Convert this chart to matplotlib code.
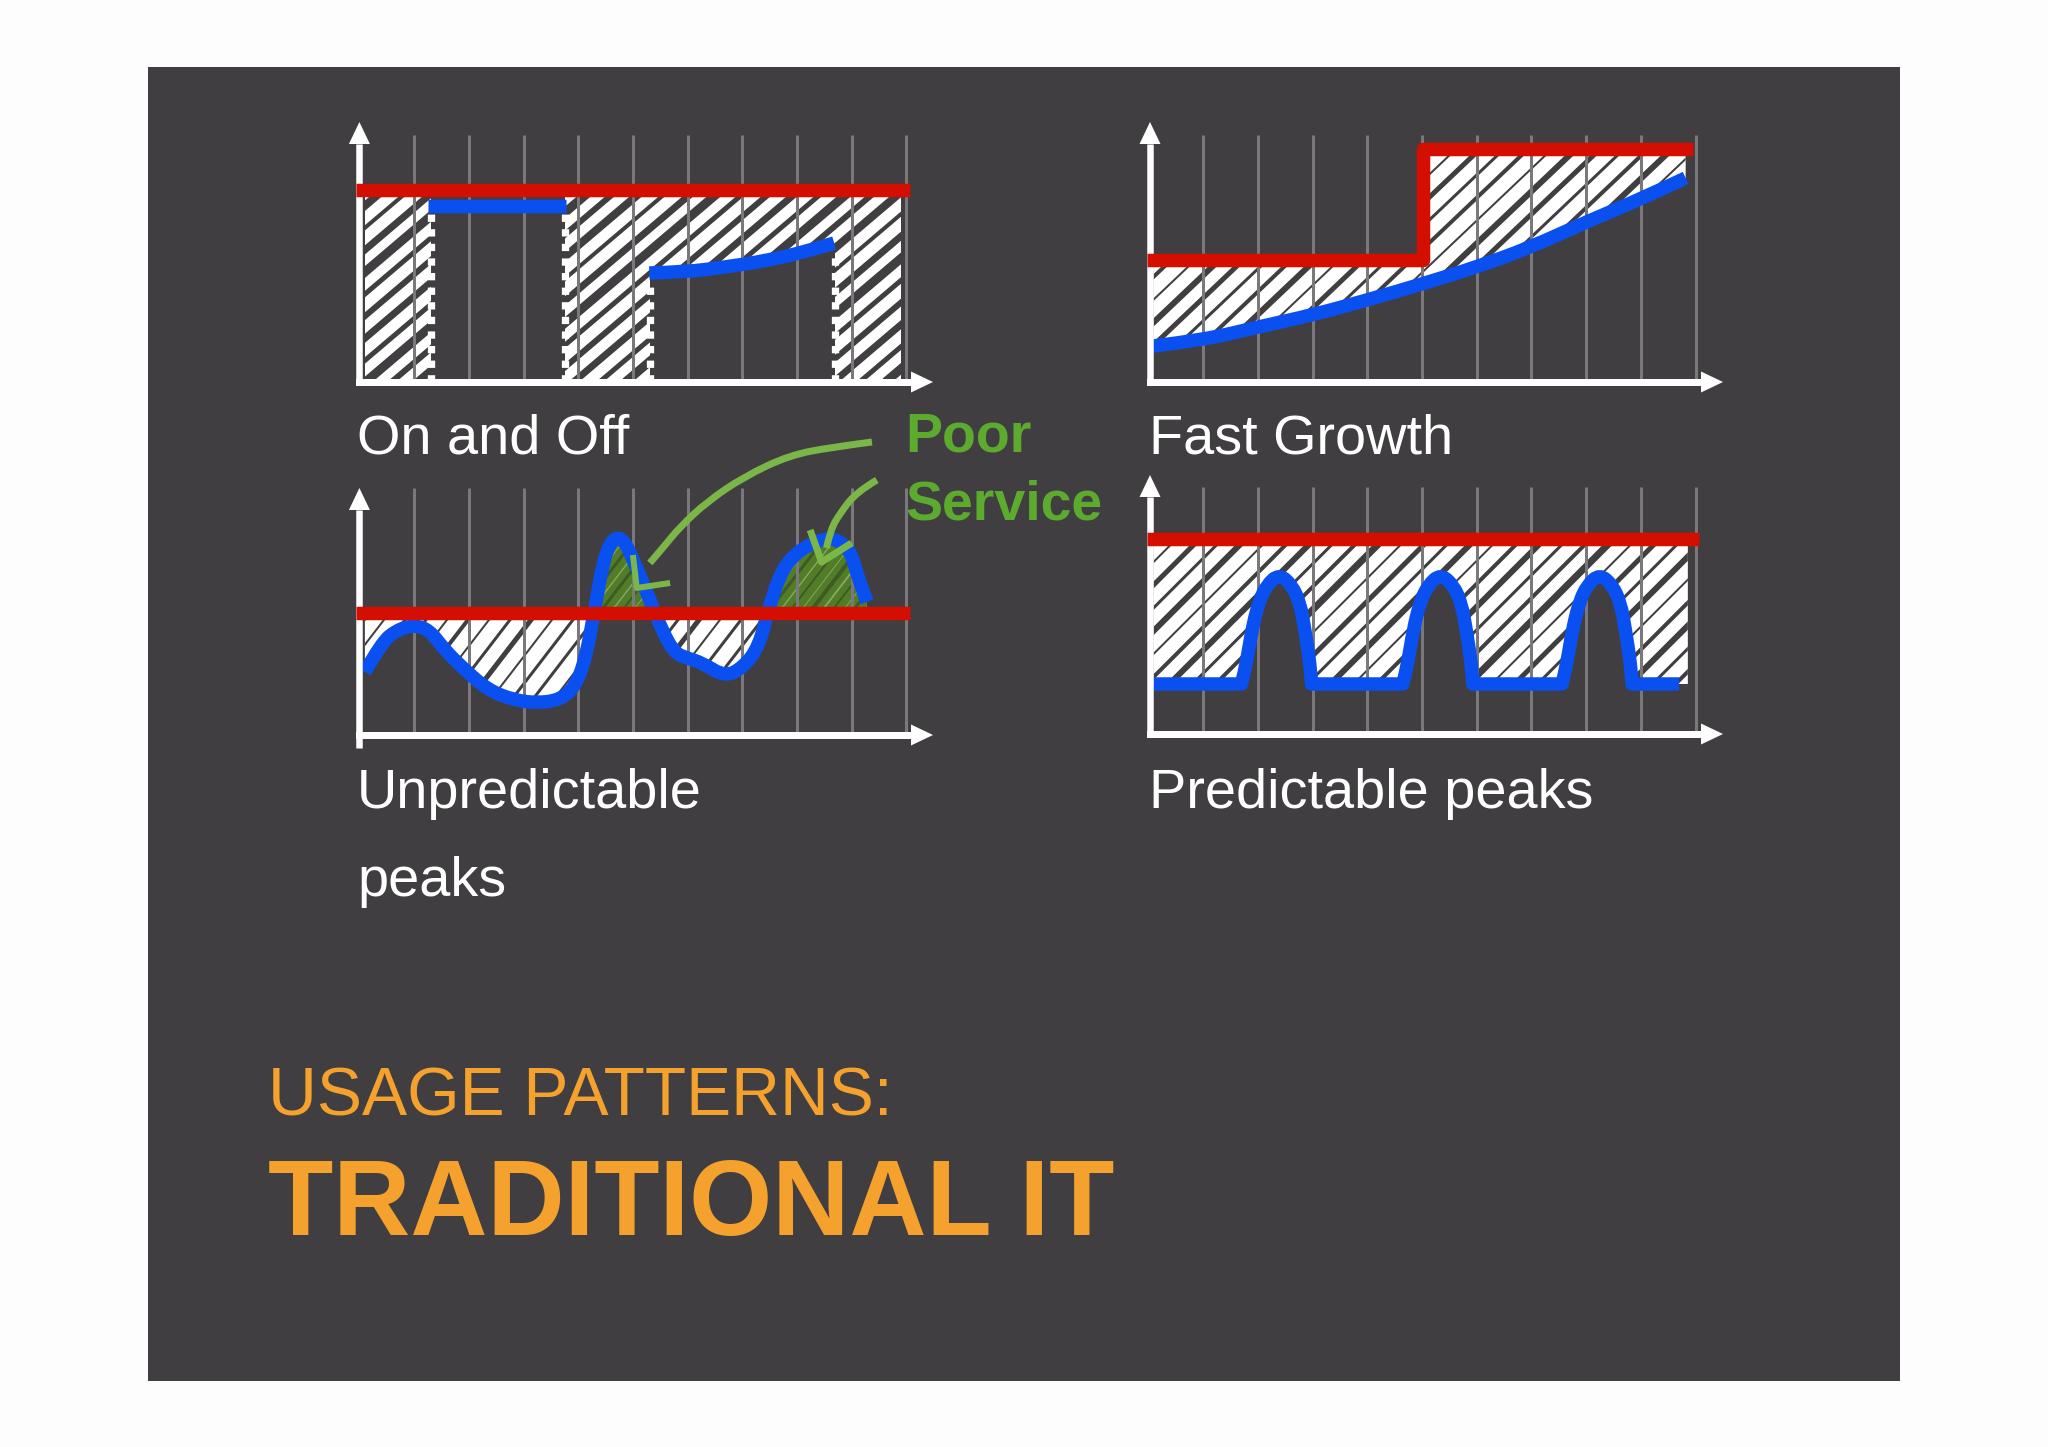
import matplotlib
matplotlib.use("Agg")
import matplotlib.pyplot as plt
from matplotlib.collections import LineCollection
from matplotlib.patches import PathPatch, Rectangle
from matplotlib.path import Path
import numpy as np

plt.rcParams['font.family'] = ['Liberation Sans', 'DejaVu Sans']

W, H = 2048, 1447
BG = '#403e40'
RED = '#d40e00'
BLUE = '#0a4ff0'
GRID = '#7a787a'
WHITE = '#ffffff'
GREEN_TXT = '#5cab2f'
GREEN_ARW = '#7ab648'
GREEN_FILL = '#527d28'
ORANGE = '#f4a12d'

grid_x = [1, 2, 3, 4, 5, 6, 7, 8, 9, 10]

# On and Off
on_red_x = [-0.07, 10.07]
on_red_y = [192, 192]
on_blue1_x = [1.25, 3.78]
on_blue1_y = [176, 176]
on_blue2_x = [5.30, 5.97, 6.69, 7.41, 8.14, 8.68]
on_blue2_y = [109, 110, 115, 121, 130, 139]
on_dots_x = [1.31, 3.75, 5.31, 8.70]
on_dots_top = [168, 168, 101, 130]
on_fill_x = [[0.1, 1.31], [3.75, 5.31], [5.31, 5.97, 6.69, 7.41, 8.14, 8.70], [8.70, 9.9]]
on_fill_lo = [[0, 0], [0, 0], [109, 110, 115, 121, 130, 139], [0, 0]]

# Fast Growth
fg_red_x = [-0.02, 5.01, 5.01, 9.96]
fg_red_y = [122, 122, 233, 233]
fg_blue_x = [0.09, 1, 2, 3, 4, 5, 6, 7, 8, 9, 9.82]
fg_blue_y = [36, 42, 55, 67, 82, 98, 115, 135, 160, 183, 204]

# Unpredictable peaks
un_red_x = [-0.07, 10.07]
un_red_y = [122, 122]
un_blue_x = [0.10, 0.40, 0.68, 1.0, 1.28, 1.56, 1.89, 2.35, 2.82, 3.24, 3.66, 3.94, 4.13, 4.31,
             4.45, 4.59, 4.73, 4.87, 5.06, 5.29, 5.53, 5.76, 5.99, 6.27, 6.69, 7.02, 7.30, 7.49,
             7.72, 8.0, 8.33, 8.65, 8.98, 9.11, 9.28]
un_blue_y = [63, 92, 105, 110, 105, 85, 67, 45, 35, 32, 35, 48, 75, 128,
             172, 193, 198, 192, 168, 138, 105, 82, 77, 72, 58, 68, 88, 128,
             165, 183, 193, 198, 185, 158, 133]
arrow1_x = [9.37, 8.67, 7.87, 7.02, 6.35, 5.86, 5.56, 5.31]
arrow1_y = [293, 288, 280, 258, 233, 208, 188, 172]
head1_x = [5.00, 5.07, 5.68]
head1_y = [180, 147, 152]
arrow2_x = [9.46, 9.09, 8.79, 8.61, 8.54]
arrow2_y = [255, 243, 222, 205, 187]
head2_x = [8.24, 8.45, 9.0]
head2_y = [205, 173, 192]

# Predictable peaks (repeated points are the square corners at the foot of each peak)
pp_blue_x = [0.09, 1.70, 1.70, 1.79, 1.89, 2.01, 2.16, 2.39, 2.62, 2.77, 2.86, 2.95, 2.98, 2.98,
             4.65, 4.65, 4.74, 4.84, 4.96, 5.11, 5.34, 5.57, 5.72, 5.81, 5.90, 5.93, 5.93,
             7.56, 7.56, 7.65, 7.75, 7.87, 8.02, 8.25, 8.48, 8.63, 8.72, 8.81, 8.84, 8.84, 9.70]
pp_blue_y = [50, 50, 50, 71, 104, 131, 149, 160, 149, 131, 104, 71, 50, 50,
             50, 50, 71, 104, 131, 149, 160, 149, 131, 104, 71, 50, 50,
             50, 50, 71, 104, 131, 149, 160, 149, 131, 104, 71, 50, 50, 50]
pp_red_x = [-0.02, 10.07]
pp_red_y = [195, 195]

# stroke texture of each shaded area: slope, horizontal pitch (px), dark stroke widths (px)
on_strokes = (0.85, 26, [7, 5, 9, 6, 8, 4, 7, 9, 5, 6])
fg_strokes = (0.95, 24, [5, 3, 4, 6, 2, 5, 3, 4, 2, 6])
un_strokes = (1.3, 21, [3, 2, 4, 2, 3, 5, 2, 3])
pp_strokes = (1.0, 23, [6, 3, 4, 7, 2, 5, 3, 6, 2, 4])

fig = plt.figure(figsize=(W / 100, H / 100), dpi=100, facecolor='#fdfdfd')
fig.patches.append(Rectangle((148 / W, 1 - 1381 / H), (1900 - 148) / W, (1381 - 67) / H,
                             transform=fig.transFigure, facecolor=BG, edgecolor='none', zorder=-5))
PX = 0.72
UNIT = 54.7


def panel(x0, y0, tip, top, grid_top, stem=-3, shift=0.0):
    ax = fig.add_axes([x0 / W, 1 - y0 / H, (tip - x0) / W, (y0 - top) / H])
    ax.set_xlim(0, (tip - x0) / UNIT)
    ax.set_ylim(0, y0 - top)
    ax.axis('off')
    ax.vlines(grid_x, 3, grid_top, color=GRID, lw=3 * PX, zorder=3)
    xmax, ymax = ax.get_xlim()[1], ax.get_ylim()[1]
    hl = 22 / UNIT
    hw = 10.5 / UNIT
    ax.plot([shift, xmax - hl], [0, 0], color=WHITE, lw=7 * PX, solid_capstyle='projecting',
            zorder=8, clip_on=False)
    ax.fill([xmax - hl, xmax, xmax - hl], [10.5, 0, -10.5], color=WHITE, lw=0, zorder=8, clip_on=False)
    ax.plot([shift, shift], [stem, ymax - 22], color=WHITE, lw=6.5 * PX, solid_capstyle='butt',
            zorder=8, clip_on=False)
    ax.fill([shift - hw, shift, shift + hw], [ymax - 22, ymax, ymax - 22], color=WHITE, lw=0, zorder=8,
            clip_on=False)
    return ax


def strokes(ax, paths, spec, color, scale=1.0, offset=0.0):
    slope, pitch, widths = spec
    ymax = ax.get_ylim()[1]
    starts = np.arange(-ymax / slope / UNIT, 11, pitch / UNIT) + offset
    segs = [[(s, 0), (s + ymax / slope / UNIT, ymax)] for s in starts]
    lws = [widths[i % len(widths)] * PX * scale for i in range(len(segs))]
    for p in paths:
        lc = LineCollection(segs, colors=color, linewidths=lws, zorder=2.5, capstyle='butt')
        ax.add_collection(lc, autolim=False)
        lc.set_clip_path(p, ax.transData)


def shaded(ax, x, lo, hi, spec, face=WHITE, edge=BG, light=None, **kw):
    poly = ax.fill_between(x, lo, hi, facecolor=face, edgecolor='none', linewidth=0, zorder=2, **kw)
    paths = poly.get_paths()
    strokes(ax, paths, spec, edge)
    if light:
        strokes(ax, paths, spec, light, scale=0.45, offset=0.2)


def line(ax, x, y, color, width=13.5, z=6, cap='butt'):
    ax.plot(x, y, color=color, lw=width * PX, zorder=z, solid_joinstyle='round',
            solid_capstyle=cap, clip_on=False)


def curve(ax, x, y, color, width=13.5, z=6, cap='butt'):
    """Smooth stroke with the read points as quadratic control points."""
    pts = np.column_stack([x, y])
    verts = [pts[0]]
    codes = [Path.MOVETO]
    for i in range(1, len(pts) - 1):
        end = pts[i + 1] if i == len(pts) - 2 else (pts[i] + pts[i + 1]) / 2
        verts += [pts[i], end]
        codes += [Path.CURVE3, Path.CURVE3]
    ax.add_patch(PathPatch(Path(verts, codes), facecolor='none', edgecolor=color, lw=width * PX,
                           capstyle=cap, joinstyle='round', zorder=z, clip_on=False))


# --- On and Off
a = panel(359.4, 382, 933, 122, 247)
for xs, los in zip(on_fill_x, on_fill_lo):
    shaded(a, xs, los, [on_red_y[0]] * len(xs), on_strokes)
for x, t in zip(on_dots_x, on_dots_top):
    a.plot([x, x], [0, t], color=WHITE, lw=7.3 * PX, linestyle=(0, (1, 1)), zorder=5,
           dash_capstyle='butt')
line(a, on_blue1_x, on_blue1_y, BLUE)
curve(a, on_blue2_x, on_blue2_y, BLUE)
line(a, on_red_x, on_red_y, RED, z=9)

# --- Fast Growth
a = panel(1148.5, 382, 1723, 122, 247, shift=1.5 / UNIT)
fx = np.array(fg_blue_x)
fy = np.array(fg_blue_y)
left = fx <= 5
shaded(a, fx[left], fy[left], np.full(left.sum(), fg_red_y[0]), fg_strokes)
shaded(a, fx[~left], fy[~left], np.full((~left).sum(), fg_red_y[2]), fg_strokes)
shaded(a, [5.01, 6], [98, 115], [233, 233], fg_strokes)
curve(a, fg_blue_x, fg_blue_y, BLUE)
line(a, fg_red_x, fg_red_y, RED, z=9)

# --- Unpredictable peaks
a = panel(359.4, 735, 933, 488, 247, stem=-13)
ux = np.array(un_blue_x)
uy = np.array(un_blue_y)
level = un_red_y[0]
shaded(a, ux, uy, level, un_strokes, where=uy <= level, interpolate=True)
shaded(a, ux, level, uy, un_strokes, face=GREEN_FILL, edge='#3f5a24', light='#8aa866',
       where=uy >= level, interpolate=True)
curve(a, un_blue_x, un_blue_y, BLUE)
line(a, un_red_x, un_red_y, RED, z=9)
curve(a, arrow1_x, arrow1_y, GREEN_ARW, 7, z=7)
line(a, head1_x, head1_y, GREEN_ARW, 6, z=7)
curve(a, arrow2_x, arrow2_y, GREEN_ARW, 7, z=7)
line(a, head2_x, head2_y, GREEN_ARW, 7, z=7)

# --- Predictable peaks
a = panel(1148.5, 734, 1723, 475, 247, shift=1.5 / UNIT)
px = np.array(pp_blue_x + [9.86])
py = np.array(pp_blue_y + [50])
shaded(a, px, py, pp_red_y[0], pp_strokes)
curve(a, pp_blue_x, pp_blue_y, BLUE)
line(a, pp_red_x, pp_red_y, RED, z=9)


# --- Text
def label(x, y, s, size, color=WHITE, weight='normal'):
    fig.text(x / W, 1 - y / H, s, fontsize=size, color=color, fontweight=weight,
             ha='left', va='baseline')


label(357, 454, 'On and Off', 40.2)
label(1149, 454, 'Fast Growth', 40.2)
label(357, 808, 'Unpredictable', 40.2)
label(357, 896, 'peaks', 40.2)
label(1149, 808, 'Predictable peaks', 40.2)
label(905, 452, 'Poor', 40, GREEN_TXT, 'bold')
label(905, 520, 'Service', 40, GREEN_TXT, 'bold')
label(268, 1116, 'USAGE PATTERNS:', 48.7, ORANGE)
label(268, 1235, 'TRADITIONAL IT', 76.9, ORANGE, 'bold')

fig.savefig('out.png', dpi=100, facecolor=fig.get_facecolor())
